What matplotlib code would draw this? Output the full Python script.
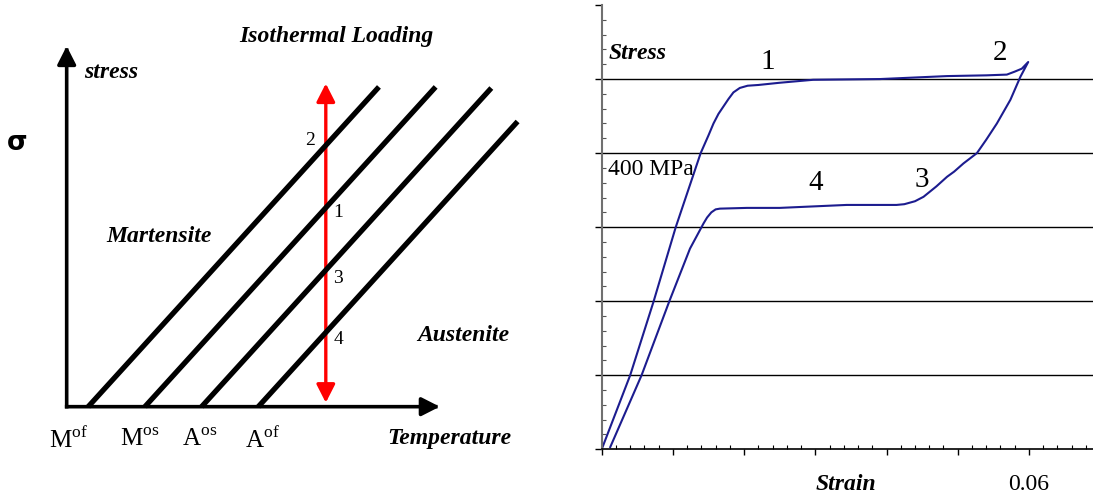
import matplotlib.pyplot as plt
from matplotlib.patches import FancyArrowPatch
from matplotlib.ticker import MultipleLocator

# Left schematic: phase diagram in stress-temperature space (arbitrary units)
transition_labels = ["M$^{\\mathrm{of}}$", "M$^{\\mathrm{os}}$", "A$^{\\mathrm{os}}$", "A$^{\\mathrm{of}}$"]
transition_temps = [0.38, 1.38, 2.38, 3.38]
line_top_stress = [5.64, 5.64, 5.62, 5.03]
clausius_slope = 1.1
test_temp = 4.57
arrow_stress = [0.07, 5.70]
point_labels = ["2", "1", "3", "4"]  # one per transition line, in order

# Right: measured superelastic loop (strain, stress in MPa)
load_strain = [0.0, 0.0040, 0.0073, 0.0095, 0.0104, 0.0139, 0.0150, 0.0157, 0.0164,
               0.0171, 0.0178, 0.0185, 0.0194, 0.0205, 0.0220, 0.0250, 0.0297, 0.0391,
               0.0485, 0.0540, 0.0569, 0.0580, 0.0590, 0.0599]
load_stress = [0, 100, 200, 271, 300, 400, 424, 440, 453,
               463, 473, 482, 488, 491, 492, 495, 499, 500,
               504, 505, 506, 510, 514, 523]
unload_strain = [0.0599, 0.0588, 0.0574, 0.0555, 0.0540, 0.0527, 0.0508, 0.0495, 0.0485,
                 0.0470, 0.0452, 0.0440, 0.0425, 0.0414, 0.0344, 0.0297, 0.0250, 0.0204,
                 0.0166, 0.0160, 0.0154, 0.0148, 0.0143, 0.0124, 0.0095, 0.0056, 0.0012]
unload_stress = [523, 503, 472, 440, 418, 400, 386, 375, 368,
                 355, 341, 335, 331, 330, 330, 328, 326, 326,
                 325, 324, 320, 313, 305, 271, 200, 100, 3]
grid_stress = [100, 200, 300, 400, 500]
curve_labels = ["1", "2", "3", "4"]
curve_label_strain = [0.0233, 0.0559, 0.0450, 0.0301]
curve_label_stress = [523, 535, 364, 360]

plt.rcParams["mathtext.fontset"] = "custom"
plt.rcParams["mathtext.rm"] = "Liberation Serif"

fig = plt.figure(figsize=(10.93, 5), dpi=100)

# ---- left panel ----
ax1 = fig.add_axes([0, 0, 545 / 1093, 1])
ax1.set_xlim(-1.176, 8.436)
ax1.set_ylim(-1.646, 7.173)
ax1.axis("off")

bi = dict(family="Liberation Serif", weight="bold", style="italic", fontsize=17)

# axes arrows
for end in [(0, 6.36), (6.58, 0)]:
    ax1.add_patch(FancyArrowPatch((0, 0), end, arrowstyle="-|>,head_length=0.55,head_width=0.28",
                                  mutation_scale=20, lw=2.6, color="black",
                                  shrinkA=0, shrinkB=0, capstyle="projecting"))

# transition lines
for t0, top in zip(transition_temps, line_top_stress):
    ax1.plot([t0, t0 + top / clausius_slope], [0, top], color="black", lw=3.8,
             solid_capstyle="butt")

# isothermal loading arrow
ax1.add_patch(FancyArrowPatch((test_temp, arrow_stress[0]), (test_temp, arrow_stress[1]),
                              arrowstyle="<|-|>,head_length=0.55,head_width=0.28",
                              mutation_scale=20, lw=2.4, color="red",
                              shrinkA=0, shrinkB=0))

# point labels at the intersections
offsets = [(-0.28, 0.09), (0.21, -0.09), (0.22, -0.15), (0.22, -0.12)]
for lab, t0, (dx, dy) in zip(point_labels, transition_temps, offsets):
    s = clausius_slope * (test_temp - t0)
    ax1.text(test_temp + dx, s + dy, lab, family="Liberation Serif", fontsize=14,
             ha="center", va="center")

# transition temperature labels
label_shift = [-0.35, -0.10, -0.04, 0.08]
for lab, t0, dx in zip(transition_labels, transition_temps, label_shift):
    ax1.text(t0 + dx, -0.59, lab, family="Liberation Serif", fontsize=18,
             ha="center", va="center")

ax1.text(4.75, 6.53, "Isothermal Loading", ha="center", va="center", **bi)
ax1.text(0.305, 5.90, "stress", ha="left", va="center", **bi)
ax1.text(-0.868, 4.65, "σ", ha="center", va="center", fontsize=19, weight="bold",
         family="DejaVu Sans")
ax1.text(1.63, 3.01, "Martensite", ha="center", va="center", **bi)
ax1.text(6.99, 1.26, "Austenite", ha="center", va="center", **bi)
ax1.text(6.75, -0.56, "Temperature", ha="center", va="center", **bi)

# ---- right panel ----
ax2 = fig.add_axes([601.7 / 1093, 50.7 / 500, 491.3 / 1093, 444.3 / 500])
ax2.set_xlim(0, 0.069)
ax2.set_ylim(0, 600)
ax2.spines["top"].set_visible(False)
ax2.spines["right"].set_visible(False)
ax2.spines["left"].set_color("#707070")
ax2.spines["left"].set_linewidth(1.5)
ax2.spines["bottom"].set_linewidth(1.2)

ax2.xaxis.set_major_locator(MultipleLocator(0.01))
ax2.xaxis.set_minor_locator(MultipleLocator(0.002))
ax2.yaxis.set_major_locator(MultipleLocator(100))
ax2.yaxis.set_minor_locator(MultipleLocator(20))
ax2.tick_params(axis="x", which="major", direction="out", length=4, width=1, labelbottom=False)
ax2.tick_params(axis="x", which="minor", direction="in", length=3, width=0.8)
ax2.tick_params(axis="y", which="major", direction="out", length=5, width=1, labelleft=False)
ax2.tick_params(axis="y", which="minor", direction="in", length=3, width=0.8, color="#555555")

ax2.hlines(grid_stress, 0, 1, transform=ax2.get_yaxis_transform(), color="black", lw=1)

ax2.plot(load_strain + unload_strain[1:], load_stress + unload_stress[1:],
         color="#1c1c8f", lw=1.5, solid_joinstyle="round")

for lab, x, y in zip(curve_labels, curve_label_strain, curve_label_stress):
    ax2.text(x, y, lab, family="Liberation Serif", fontsize=21, ha="center", va="center")

ax2.text(0.0134, 0.891, "Stress", transform=ax2.transAxes, ha="left", va="center", **bi)
ax2.text(0.0134, 0.629, "400 MPa", transform=ax2.transAxes, ha="left", va="center",
         family="Liberation Serif", fontsize=17)
ax2.text(0.498, -0.080, "Strain", transform=ax2.transAxes, ha="center", va="center",
         clip_on=False, **bi)
ax2.text(0.06, -0.080, "0.06", transform=ax2.get_xaxis_transform(), ha="center",
         va="center", family="Liberation Serif", fontsize=17, clip_on=False)

fig.savefig("out.png", dpi=100)
